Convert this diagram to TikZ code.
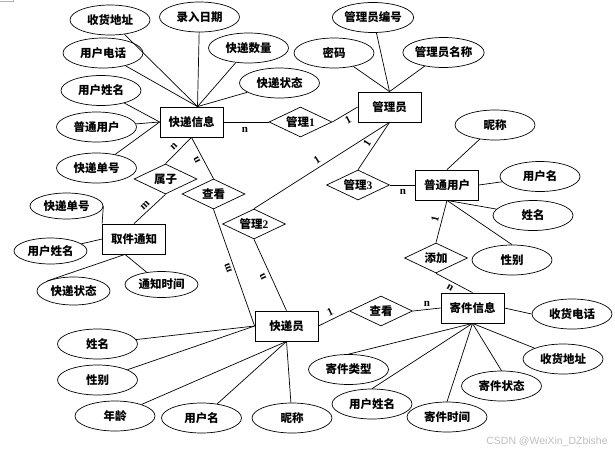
\documentclass[tikz,border=0pt]{standalone}
\usepackage{fontspec}
\newfontfamily\cjk{Noto Sans CJK SC}
\newfontfamily\lat{Liberation Serif}
\newfontfamily\wmfont{Liberation Sans}
\usetikzlibrary{shapes.geometric}
\begin{document}
\begin{tikzpicture}[x=1pt,y=-1pt,
 every node/.style={font=\cjk\bfseries\fontsize{11.5}{13}\selectfont, inner sep=0pt},
 ent/.style={draw, line width=0.8pt, minimum width=63pt, minimum height=30pt},
 attr/.style={draw, ellipse, line width=0.7pt, minimum width=80pt, minimum height=30pt},
 sattr/.style={attr, minimum width=73pt, minimum height=26pt},
 rel/.style={draw, diamond, line width=0.7pt, shape aspect=2.1, minimum width=63pt, minimum height=30pt},
 lbl/.style={font=\lat\bfseries\fontsize{11}{12}\selectfont},
 conn/.style={line width=0.7pt}
]
\useasboundingbox (0,0) rectangle (615,453);
\draw[gray!60, line width=0.6pt] (0,1) -- (13,1) -- (13,0);

% entities
\node[ent] (kdxx) at (191.5,122) {快递信息};
\node[ent] (gly) at (389.5,107) {管理员};
\node[ent] (ptyh) at (447,185) {普通用户};
\node[ent] (qjtz) at (134,239) {取件通知};
\node[ent] (kdy) at (286.5,326) {快递员};
\node[ent] (jjxx) at (472.5,308) {寄件信息};

% attributes of 快递信息
\node[attr] (a1) at (110,20) {收货地址};
\node[attr] (a2) at (199.5,17) {录入日期};
\node[attr] (a3) at (248.5,48) {快递数量};
\node[attr] (a4) at (103,53) {用户电话};
\node[attr] (a5) at (279.5,83) {快递状态};
\node[attr] (a6) at (101,90.5) {用户姓名};
\node[attr] (a7) at (96.5,127) {普通用户};
\node[attr] (a8) at (96.5,168) {快递单号};
% attributes of 管理员
\node[attr] (b1) at (373,17.5) {管理员编号};
\node[attr] (b2) at (334,53) {密码};
\node[attr] (b3) at (443.5,52.5) {管理员名称};
% attributes of 普通用户
\node[attr] (c1) at (495,125) {昵称};
\node[attr] (c2) at (540,176.5) {用户名};
\node[attr] (c3) at (533,215.5) {姓名};
\node[attr] (c4) at (512,260) {性别};
% attributes of 取件通知
\node[sattr] (d1) at (66.5,206) {快递单号};
\node[sattr] (d2) at (50.5,251) {用户姓名};
\node[sattr, minimum height=28pt] (d3) at (73.5,291) {快递状态};
\node[sattr] (d4) at (161.5,284.5) {通知时间};
% attributes of 快递员
\node[attr] (e1) at (97.5,344) {姓名};
\node[attr] (e2) at (97.5,380) {性别};
\node[attr] (e3) at (115,416) {年龄};
\node[attr] (e4) at (201.5,418) {用户名};
\node[attr] (e5) at (292,418) {昵称};
% attributes of 寄件信息
\node[attr] (f1) at (348.5,369.5) {寄件类型};
\node[attr] (f2) at (372,404) {用户姓名};
\node[attr] (f3) at (447,417) {寄件时间};
\node[attr] (f4) at (501.5,386) {寄件状态};
\node[attr] (f5) at (563,359) {收货地址};
\node[attr] (f6) at (572,314) {收货电话};

% relationships
\node[rel] (r1) at (300.5,122) {管理{\lat\bfseries 1}};
\node[rel] (r2) at (165.5,179) {属子};
\node[rel] (r3) at (213.5,194) {查看};
\node[rel] (r4) at (254,224) {管理{\lat\bfseries 2}};
\node[rel] (r5) at (358,185) {管理{\lat\bfseries 3}};
\node[rel] (r6) at (436,258) {添加};
\node[rel] (r7) at (381,311) {查看};

\coordinate (kdtop) at ([xshift=6pt]kdxx.north);
\coordinate (qjb) at ([xshift=-9pt]qjtz.south);

% attribute connectors
\draw[conn] (a1) -- (kdtop);
\draw[conn] (a2) -- (kdtop);
\draw[conn] (a3) -- (kdtop);
\draw[conn] (a4) -- (kdtop);
\draw[conn] (a5) -- (kdtop);
\draw[conn] (a6) -- (kdxx.west);
\draw[conn] (a7) -- (kdxx.west);
\draw[conn] (a8) -- (kdxx.west);
\draw[conn] (b1) -- (gly.north);
\draw[conn] (b2) -- (gly.north);
\draw[conn] (b3) -- (gly.north);
\draw[conn] (c1) -- (ptyh.north);
\draw[conn] (c2) -- (ptyh.east);
\draw[conn] (c3) -- (ptyh.south);
\draw[conn] (c4.north) -- (ptyh.south);
\draw[conn] (d1.east) -- (qjtz.north west);
\draw[conn] (d2) -- (qjtz.west);
\draw[conn] (d3.north west) -- (qjb);
\draw[conn] (d4) -- (qjb);
\draw[conn] (e1) -- (kdy.west);
\draw[conn] (e2) -- (kdy.west);
\draw[conn] (e3) -- (kdy.south);
\draw[conn] (e4) -- (kdy.south);
\draw[conn] (e5) -- (kdy.south);
\draw[conn] (f1.north) -- (jjxx.south);
\draw[conn] (f2.north) -- (jjxx.south);
\draw[conn] (f3.north) -- (jjxx.south);
\draw[conn] (f4.north) -- (jjxx.south);
\draw[conn] (f5.north west) -- (jjxx.south);
\draw[conn] (jjxx.east) -- (f6.west);

% relationship connectors
\draw[conn] (kdxx.east) -- (r1.west);
\draw[conn] (r1.east) -- (gly.west);
\draw[conn] (gly.south) -- (r4.north);
\draw[conn] (gly.south) -- (r5.north);
\draw[conn] (r5.east) -- (ptyh.west);
\draw[conn] (kdxx.south) -- (r2.north);
\draw[conn] (r2.south) -- (qjtz.north);
\draw[conn] (kdxx.south) -- (r3.north);
\draw[conn] (r3.south) -- (kdy.west);
\draw[conn] (r4.south) -- (kdy.north);
\draw[conn] (kdy.east) -- (r7.west);
\draw[conn] (r7.east) -- (jjxx.west);
\draw[conn] (ptyh.south) -- (r6.north);
\draw[conn] (r6.south) -- (jjxx.north);

% cardinality labels
\node[lbl] (l1) at (245,130) {n};
\node[lbl, rotate=28] (l2) at (348,120) {1};
\node[lbl, rotate=33] (l3) at (317,160) {1};
\node[lbl, rotate=57] (l4) at (367,143) {1};
\node[lbl] (l5) at (403,192) {n};
\node[lbl, rotate=45] (l6) at (174,147) {n};
\node[lbl, rotate=44] (l7) at (145,205) {m};
\node[lbl, rotate=118] (l8) at (197,160) {n};
\node[lbl, rotate=110] (l9) at (228,268) {m};
\node[lbl, rotate=115] (l10) at (263,277) {n};
\node[lbl, rotate=25] (l11) at (330,312) {1};
\node[lbl] (l12) at (427,304) {n};
\node[lbl, rotate=76] (l13) at (435,219) {1};
\node[lbl, rotate=-29] (l14) at (450,288) {n};

\node[font=\wmfont\fontsize{10.5}{12}\selectfont, text=gray!50] (wm) at (547,442) {CSDN @WeiXin\_DZbishe};
\end{tikzpicture}
\end{document}
